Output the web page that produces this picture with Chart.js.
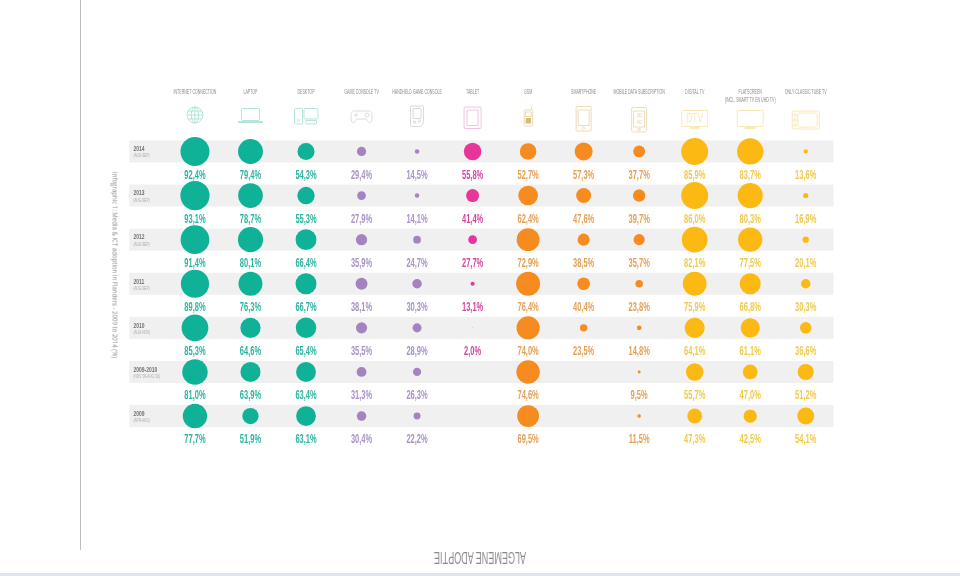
<!DOCTYPE html>
<html>
<head>
<meta charset="utf-8">
<script src="https://cdn.jsdelivr.net/npm/chart.js@4"></script>
<style>
  html, body { margin: 0; padding: 0; background: #fff; overflow: hidden; }
  #pagina { position: relative; width: 960px; height: 576px; }
  #grafico { position: absolute; left: 0; top: 0; }
  #regua { position: absolute; left: 80px; top: 0; width: 1.3px; height: 550px; background: #bdbdbd; }
  #faixa { position: absolute; left: 0; top: 573px; width: 960px; height: 3px; background: #dfe5ec; }
  #fonte { position: absolute; left: 115px; top: 265px; transform: translate(-50%, -50%) rotate(90deg) scaleX(0.92);
    font: 6.6px "Open Sans", sans-serif; color: #8c8c8c; white-space: nowrap; }
  #titulo { position: absolute; left: 480px; top: 556.5px; transform: translate(-50%, -50%) rotate(180deg) scaleX(0.565);
    font: 16px "Liberation Sans Narrow", sans-serif; color: #8a8a8a; white-space: nowrap; }
</style>
</head>
<body>
<div id="pagina">
  <canvas id="grafico" width="960" height="576"></canvas>
  <div id="regua"></div>
  <div id="fonte">Infographic 1: Media &amp; ICT adoption in Flanders - 2009 to 2014 (%)</div>
  <div id="titulo">ALGEMENE ADOPTIE</div>
  <div id="faixa"></div>
</div>
<script>
const devices = [
  'INTERNET CONNECTION', 'LAPTOP', 'DESKTOP', 'GAME CONSOLE TV', 'HANDHELD GAME CONSOLE', 'TABLET',
  'GSM', 'SMARTPHONE', 'MOBILE DATA SUBSCRIPTION', 'DIGITAL TV', 'FLATSCREEN', 'ONLY CLASSIC TUBE TV'
];
const deviceNotes = ['', '', '', '', '', '', '', '', '', '', '(INCL. SMART TV EN UHD TV)', ''];
const years = ['2014', '2013', '2012', '2011', '2010', '2009-2010', '2009'];
const periods = ['(AUG-SEP)', '(AUG-SEP)', '(AUG-SEP)', '(AUG-SEP)', '(AUG-NOV)', "(NOV '09-AUG '10)", '(APR-AUG)'];

// one array per device, same order as years
const internet = [92.4, 93.1, 91.4, 89.8, 85.3, 81.0, 77.7];
const laptop = [79.4, 78.7, 80.1, 76.3, 64.6, 63.9, 51.9];
const desktop = [54.3, 55.3, 66.4, 66.7, 65.4, 63.4, 63.1];
const gameConsole = [29.4, 27.9, 35.9, 38.1, 35.5, 31.3, 30.4];
const handheld = [14.5, 14.1, 24.7, 30.3, 28.9, 26.3, 22.2];
const tablet = [55.8, 41.4, 27.7, 13.1, 2.0, null, null];
const gsm = [52.7, 62.4, 72.9, 76.4, 74.0, 74.6, 69.5];
const smartphone = [57.3, 47.6, 38.5, 40.4, 23.5, null, null];
const mobileData = [37.7, 39.7, 35.7, 23.8, 14.8, 9.5, 11.5];
const digitalTv = [85.9, 86.0, 82.1, 75.9, 64.1, 55.7, 47.3];
const flatscreen = [83.7, 80.3, 77.5, 66.8, 61.1, 47.0, 42.5];
const classicTv = [13.6, 16.9, 20.1, 30.3, 36.6, 51.2, 54.1];

const allSeries = [internet, laptop, desktop, gameConsole, handheld, tablet, gsm, smartphone, mobileData, digitalTv, flatscreen, classicTv];

const TEAL = '#0fb297', PURPLE = '#a583c0', PINK = '#e8359a', ORANGE = '#f68b1f', YELLOW = '#fdb913';
const dotColors = [TEAL, TEAL, TEAL, PURPLE, PURPLE, PINK, ORANGE, ORANGE, ORANGE, YELLOW, YELLOW, YELLOW];
const textColors = ['#2bb59f', '#2bb59f', '#2bb59f', '#a892c6', '#a892c6', '#d2479f', '#e3a055', '#e3a055', '#e3a055', '#efca4e', '#efca4e', '#efca4e'];
const RADIUS_PER_POINT = 0.157;

const datasets = allSeries.map((values, i) => ({
  label: devices[i],
  data: values.map((v, row) => v === null ? null : { x: devices[i], y: years[row], r: v * RADIUS_PER_POINT, value: v }).filter(Boolean),
  backgroundColor: dotColors[i],
  borderWidth: 0
}));

// squeezed text, the original font is much narrower than anything installed
function squeezed(ctx, str, x, y, scaleX, font, color, align) {
  ctx.save();
  ctx.translate(x, y);
  ctx.scale(scaleX, 1);
  ctx.font = font;
  ctx.fillStyle = color;
  ctx.textAlign = align;
  ctx.textBaseline = 'middle';
  ctx.fillText(str, 0, 0);
  ctx.restore();
}

// grey row bands, from the left of the row labels to the right of the plot
const bandsPlugin = {
  id: 'bands',
  beforeDraw(chart) {
    const { ctx, scales: { x, y } } = chart;
    ctx.save();
    ctx.fillStyle = '#f0f0f0';
    years.forEach((year, row) => {
      const py = y.getPixelForValue(row);
      ctx.fillRect(y.left, py - 11, x.right - y.left, 22);
    });
    ctx.restore();
  }
};

// column heads, value under every dot, year and period in front of every row
const NARROW = '"Liberation Sans Narrow", sans-serif';
const labelsPlugin = {
  id: 'valueLabels',
  afterDatasetsDraw(chart) {
    const { ctx, scales: { x, y } } = chart;
    devices.forEach((name, i) => {
      const px = x.getPixelForValue(i);
      squeezed(ctx, name, px, 92.3, 0.55, '6.5px ' + NARROW, '#8a8a8a', 'center');
      if (deviceNotes[i]) squeezed(ctx, deviceNotes[i], px, 100.6, 0.55, '6.5px ' + NARROW, '#8a8a8a', 'center');
    });
    allSeries.forEach((values, i) => {
      const px = x.getPixelForValue(i);
      values.forEach((v, row) => {
        if (v === null) return;
        const py = y.getPixelForValue(row) + 23.8;
        squeezed(ctx, v.toFixed(1).replace('.', ',') + '%', px, py, 0.6, 'bold 12.5px ' + NARROW, textColors[i], 'center');
      });
    });
    years.forEach((year, row) => {
      const py = y.getPixelForValue(row);
      squeezed(ctx, year, y.left + 4.2, py - 2.4, 0.62, 'bold 8px ' + NARROW, '#707070', 'left');
      squeezed(ctx, periods[row], y.left + 4.2, py + 4.6, 0.62, '5px ' + NARROW, '#a8a8a8', 'left');
    });
  }
};

// line icons above the columns
function box(ctx, l, t, r, b, rad) {
  ctx.beginPath();
  ctx.roundRect(l, t, r - l, b - t, rad || 0);
  ctx.stroke();
}
const iconDrawers = [
  (ctx, c) => { // globe
    ctx.beginPath(); ctx.arc(c, 115, 8, 0, Math.PI * 2); ctx.stroke();
    ctx.beginPath(); ctx.ellipse(c, 115, 3.6, 8, 0, 0, Math.PI * 2); ctx.stroke();
    ctx.beginPath(); ctx.moveTo(c, 107); ctx.lineTo(c, 123);
    ctx.moveTo(c - 8, 115); ctx.lineTo(c + 8, 115);
    ctx.moveTo(c - 7, 111); ctx.lineTo(c + 7, 111);
    ctx.moveTo(c - 7, 119); ctx.lineTo(c + 7, 119); ctx.stroke();
  },
  (ctx, c) => { // laptop
    box(ctx, c - 9, 108.5, c + 9, 120.5, 1);
    ctx.fillRect(c - 12.5, 121, 25, 2);
  },
  (ctx, c) => { // desktop
    box(ctx, c - 11.5, 108.5, c - 3.5, 124, 1);
    box(ctx, c - 2, 108.5, c + 12, 119, 1);
    box(ctx, c, 120.5, c + 10.5, 124, 0.5);
    ctx.beginPath(); ctx.arc(c - 7.5, 120.5, 1, 0, Math.PI * 2); ctx.stroke();
  },
  (ctx, c) => { // gamepad
    ctx.beginPath();
    ctx.moveTo(c - 6, 111);
    ctx.lineTo(c + 6, 111);
    ctx.bezierCurveTo(c + 9, 110, c + 11, 113, c + 10.5, 118);
    ctx.bezierCurveTo(c + 10.5, 124, c + 7, 124, c + 5, 119);
    ctx.lineTo(c - 5, 119);
    ctx.bezierCurveTo(c - 7, 124, c - 10.5, 124, c - 10.5, 118);
    ctx.bezierCurveTo(c - 11, 113, c - 9, 110, c - 6, 111);
    ctx.stroke();
    ctx.beginPath(); ctx.moveTo(c - 7.5, 115); ctx.lineTo(c - 3.5, 115);
    ctx.moveTo(c - 5.5, 113); ctx.lineTo(c - 5.5, 117); ctx.stroke();
    ctx.beginPath(); ctx.arc(c + 5.5, 115, 2, 0, Math.PI * 2); ctx.stroke();
  },
  (ctx, c) => { // handheld
    box(ctx, c - 6.5, 106, c + 6.5, 126.5, [1, 1, 5, 1]);
    box(ctx, c - 4, 108.5, c + 4, 118.5, 0.5);
    ctx.beginPath(); ctx.arc(c - 2.5, 122, 1.2, 0, Math.PI * 2); ctx.stroke();
    ctx.beginPath(); ctx.arc(c + 2.5, 121, 1.2, 0, Math.PI * 2); ctx.stroke();
  },
  (ctx, c) => { // tablet
    box(ctx, c - 8.5, 107, c + 8.5, 128.5, 1);
    box(ctx, c - 5.5, 110, c + 5.5, 125.5, 0);
  },
  (ctx, c) => { // gsm
    box(ctx, c - 4, 110, c + 4.5, 126, 1);
    ctx.beginPath(); ctx.moveTo(c + 3.5, 110); ctx.lineTo(c + 3.5, 106.5); ctx.stroke();
    ctx.save(); ctx.fillStyle = '#d9bc73';
    ctx.fillRect(c - 2.5, 118, 5.5, 5.5);
    ctx.restore();
    box(ctx, c - 2.5, 112, c + 3, 116.5, 0);
  },
  (ctx, c) => { // smartphone
    box(ctx, c - 7.5, 106.5, c + 7.5, 131, 1);
    box(ctx, c - 5.5, 110, c + 5.5, 125.5, 0);
    ctx.beginPath(); ctx.arc(c, 128.2, 1.2, 0, Math.PI * 2); ctx.stroke();
  },
  (ctx, c) => { // mobile data
    box(ctx, c - 7.5, 107.5, c + 7.5, 132, 1.5);
    box(ctx, c - 5.5, 111, c + 5.5, 127, 0);
    ctx.beginPath(); ctx.arc(c, 129.5, 1.2, 0, Math.PI * 2); ctx.stroke();
    squeezed(ctx, '3G', c, 115.5, 0.8, 'bold 5px ' + NARROW, ctx.fillStyle, 'center');
    squeezed(ctx, '4G', c, 122.5, 0.8, 'bold 5px ' + NARROW, ctx.fillStyle, 'center');
  },
  (ctx, c) => { // digital tv
    box(ctx, c - 13, 110.5, c + 13, 126.5, 0.5);
    ctx.fillRect(c - 5, 127, 10, 2);
    squeezed(ctx, 'DTV', c, 118.5, 0.7, '12px ' + NARROW, ctx.fillStyle, 'center');
  },
  (ctx, c) => { // flatscreen
    box(ctx, c - 13, 110.5, c + 13, 126.5, 0.5);
    ctx.fillRect(c - 5.5, 127, 11, 2);
  },
  (ctx, c) => { // classic tv
    box(ctx, c - 13.5, 111, c + 13.5, 129, 1);
    box(ctx, c - 8, 113, c + 11.5, 127, 2);
    [115, 120, 125].forEach(y => { ctx.beginPath(); ctx.arc(c - 10.8, y, 1.4, 0, Math.PI * 2); ctx.stroke(); });
  }
];
const iconColors = ['#b4e4dc', '#b4e4dc', '#b4e4dc', '#dcdcdc', '#d8d8d8', '#f3c2df', '#ecdcb9', '#ecdcb9', '#ecdcb9', '#f8e9b8', '#f8e9b8', '#f8e9b8'];

const iconsPlugin = {
  id: 'icons',
  afterDraw(chart) {
    const { ctx, scales: { x } } = chart;
    iconDrawers.forEach((draw, i) => {
      ctx.save();
      ctx.strokeStyle = iconColors[i];
      ctx.fillStyle = iconColors[i];
      ctx.lineWidth = 1;
      draw(ctx, x.getPixelForValue(i));
      ctx.restore();
    });
  }
};

new Chart(document.getElementById('grafico').getContext('2d'), {
  type: 'bubble',
  data: { datasets },
  plugins: [bandsPlugin, labelsPlugin, iconsPlugin],
  options: {
    responsive: false,
    animation: false,
    devicePixelRatio: 1,
    layout: { padding: { top: 0, left: 129.3, right: 126.5, bottom: 137.9 } },
    plugins: { legend: { display: false }, tooltip: { enabled: false } },
    scales: {
      x: {
        type: 'category',
        position: 'top',
        labels: devices,
        offset: true,
        border: { display: false },
        grid: { display: false, drawTicks: false },
        afterFit: scale => { scale.height = 129.4; },
        ticks: { display: false, autoSkip: false }
      },
      y: {
        type: 'category',
        labels: years,
        offset: true,
        border: { display: false },
        grid: { display: false, drawTicks: false },
        afterFit: scale => { scale.width = 37.9; },
        ticks: { display: false, autoSkip: false }
      }
    }
  }
});
</script>
</body>
</html>
